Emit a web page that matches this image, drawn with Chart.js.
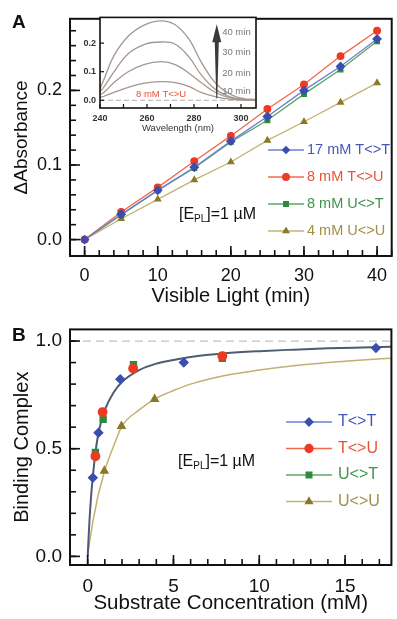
<!DOCTYPE html>
<html>
<head>
<meta charset="utf-8">
<script src="https://cdn.jsdelivr.net/npm/chart.js@4.4.0/dist/chart.umd.min.js"></script>
<style>
  html, body { margin: 0; padding: 0; background: #fff; }
  #wrap { position: relative; width: 397px; height: 619px; overflow: hidden; font-family: "Liberation Sans", Arial, sans-serif; }
  canvas { position: absolute; }
  .panel { position: absolute; font-weight: bold; font-size: 19px; line-height: 1; color: #111; }
</style>
</head>
<body>
<div id="wrap">
  <canvas id="chartA" width="397" height="310" style="left:0px;top:0px"></canvas>
  <canvas id="inset" width="190" height="130" style="left:75px;top:8px"></canvas>
  <canvas id="chartB" width="397" height="309" style="left:0px;top:310px"></canvas>
  <div class="panel" style="left:12px;top:12px">A</div>
  <div class="panel" style="left:12px;top:325px">B</div>
</div>
<script>
// panel A : absorbance change vs irradiation time
const minutes = [0, 5, 10, 15, 20, 25, 30, 35, 40];
const absTT17 = [0, 0.034, 0.066, 0.097, 0.132, 0.165, 0.200, 0.232, 0.269];
const absTU8  = [0, 0.037, 0.070, 0.105, 0.139, 0.175, 0.208, 0.246, 0.280];
const absUT8  = [0, 0.033, 0.066, 0.096, 0.131, 0.160, 0.195, 0.228, 0.266];
const absUU4  = [0, 0.028, 0.054, 0.080, 0.104, 0.133, 0.158, 0.184, 0.210];
const aXTicks = [0, 10, 20, 30, 40];
const aYTicks = [0, 0.1, 0.2];

// inset : spectra of 8 mM T<>U
const wavelength = [240, 242, 246, 252, 259, 266, 272, 278, 283, 289, 295, 301, 306];
const spec10 = [0.010, 0.015, 0.028, 0.045, 0.060, 0.065, 0.062, 0.048, 0.028, 0.013, 0.004, 0.001, 0.000];
const spec20 = [0.020, 0.030, 0.062, 0.100, 0.126, 0.135, 0.125, 0.094, 0.062, 0.028, 0.009, 0.002, 0.001];
const spec30 = [0.030, 0.050, 0.100, 0.163, 0.196, 0.204, 0.196, 0.150, 0.090, 0.039, 0.013, 0.003, 0.002];
const spec40 = [0.040, 0.080, 0.157, 0.224, 0.264, 0.278, 0.264, 0.212, 0.135, 0.062, 0.023, 0.006, 0.003];
const insetXTicks = [240, 260, 280, 300];
const insetYTicks = [0, 0.1, 0.2];
const insetTimes = ['10 min', '20 min', '30 min', '40 min'];

// panel B : binding complex vs substrate concentration
const ttConc = [0.30, 0.63, 1.9, 5.6, 16.8];
const ttBind = [0.365, 0.574, 0.823, 0.900, 0.968];
const tuConc = [0.45, 0.87, 2.65, 7.85];
const tuBind = [0.465, 0.670, 0.873, 0.930];
const utConc = [0.45, 0.90, 2.67, 7.85];
const utBind = [0.483, 0.637, 0.890, 0.920];
const uuConc = [0.97, 1.97, 3.9];
const uuBind = [0.397, 0.605, 0.730];
const fitConc  = [0, 0.1, 0.2, 0.3, 0.45, 0.6, 0.8, 1, 1.5, 2, 3, 4, 5, 6, 8, 10, 12, 14, 16, 17.7];
const fitTight = [0, 0.16, 0.28, 0.37, 0.48, 0.56, 0.63, 0.68, 0.76, 0.81, 0.865, 0.895, 0.912, 0.926, 0.943, 0.953, 0.960, 0.966, 0.970, 0.973];
const fitLoose = [0, 0.06, 0.11, 0.16, 0.22, 0.28, 0.34, 0.40, 0.51, 0.605, 0.68, 0.735, 0.77, 0.80, 0.84, 0.865, 0.885, 0.90, 0.912, 0.92];
const bXTicks = [0, 5, 10, 15];
const bYTicks = [0, 0.5, 1.0];

const FONT = '"Liberation Sans", Arial, sans-serif';
Chart.defaults.font.family = FONT;
Chart.defaults.color = '#111';

const pts = (xs, ys) => xs.map((x, i) => ({ x: x, y: ys[i] }));
const steps = (a, b, s) => { const out = []; for (let v = a; v <= b + 1e-9; v += s) out.push(+v.toFixed(4)); return out; };

// frame round the plot area + inward tick marks
const frameTicks = {
  id: 'frameTicks',
  beforeDraw(chart, args, o) {
    if (!o.fill) return;
    const { ctx, chartArea: ca } = chart;
    ctx.save();
    ctx.fillStyle = o.fill;
    ctx.fillRect(ca.left, ca.top, ca.right - ca.left, ca.bottom - ca.top);
    ctx.restore();
  },
  afterDraw(chart, args, o) {
    const { ctx, chartArea: ca, scales } = chart;
    ctx.save();
    ctx.strokeStyle = '#111';
    ctx.lineWidth = o.width;
    ctx.strokeRect(ca.left, ca.top, ca.right - ca.left, ca.bottom - ca.top);
    ctx.lineWidth = o.tickWidth;
    const draw = (scale, vals, len) => vals.forEach(v => {
      const p = scale.getPixelForValue(v);
      ctx.beginPath();
      if (scale.isHorizontal()) { ctx.moveTo(p, ca.bottom); ctx.lineTo(p, ca.bottom - len); }
      else { ctx.moveTo(ca.left, p); ctx.lineTo(ca.left + len, p); }
      ctx.stroke();
    });
    draw(scales.x, o.xMinor, o.minorLen);
    draw(scales.x, o.xMajor, o.majorLen);
    draw(scales.y, o.yMinor, o.minorLen);
    draw(scales.y, o.yMajor, o.majorLen);
    ctx.restore();
  }
};

// dashed reference line
const refLine = {
  id: 'refLine',
  beforeDatasetsDraw(chart, args, o) {
    const { ctx, chartArea: ca, scales } = chart;
    const y = scales.y.getPixelForValue(o.value);
    ctx.save();
    ctx.strokeStyle = o.color;
    ctx.lineWidth = o.width;
    ctx.setLineDash(o.dash);
    ctx.beginPath();
    ctx.moveTo(ca.left, y);
    ctx.lineTo(ca.right, y);
    ctx.stroke();
    ctx.restore();
  }
};

// legend drawn inside the plot
const innerLegend = {
  id: 'innerLegend',
  afterDatasetsDraw(chart, args, o) {
    const ctx = chart.ctx;
    ctx.save();
    ctx.font = o.size + 'px ' + FONT;
    ctx.textBaseline = 'middle';
    let row = 0;
    chart.data.datasets.forEach(ds => {
      if (ds.inLegend === false) return;
      const y = o.top + row * o.gap;
      ctx.strokeStyle = ds.borderColor;
      ctx.lineWidth = 1.3;
      ctx.beginPath();
      ctx.moveTo(o.lineFrom, y);
      ctx.lineTo(o.lineTo, y);
      ctx.stroke();
      ctx.fillStyle = ds.pointBackgroundColor;
      ctx.strokeStyle = ds.pointBackgroundColor;
      Chart.helpers.drawPoint(ctx, { pointStyle: ds.pointStyle, radius: o.radius, rotation: 0, borderWidth: 1 }, (o.lineFrom + o.lineTo) / 2, y);
      ctx.fillStyle = ds.textColor;
      ctx.fillText(ds.label, o.textX, y);
      row++;
    });
    ctx.restore();
  }
};

// [E_PL]=1 uM and other free text
const notes = {
  id: 'notes',
  afterDatasetsDraw(chart, args, o) {
    const { ctx, scales } = chart;
    ctx.save();
    ctx.textBaseline = 'middle';
    (o.items || []).forEach(n => {
      const x = scales.x.getPixelForValue(n.x);
      const y = scales.y.getPixelForValue(n.y);
      ctx.fillStyle = n.color;
      ctx.font = (n.weight || 'normal') + ' ' + n.size + 'px ' + FONT;
      ctx.textAlign = n.align || 'left';
      if (n.sub) {
        ctx.textAlign = 'left';
        ctx.fillText(n.text, x, y);
        let cx = x + ctx.measureText(n.text).width;
        ctx.font = Math.round(n.size * 0.62) + 'px ' + FONT;
        ctx.fillText(n.sub, cx, y + n.size * 0.3);
        cx += ctx.measureText(n.sub).width;
        ctx.font = n.size + 'px ' + FONT;
        ctx.fillText(n.after, cx, y);
      } else {
        ctx.fillText(n.text, x, y);
      }
    });
    ctx.restore();
  }
};

// arrow in the inset
const timeArrow = {
  id: 'timeArrow',
  afterDatasetsDraw(chart, args, o) {
    const { ctx, scales } = chart;
    const x = scales.x.getPixelForValue(o.x);
    const yb = scales.y.getPixelForValue(o.from);
    const yt = scales.y.getPixelForValue(o.to);
    const yh = yt + o.head;
    ctx.save();
    ctx.fillStyle = o.color;
    ctx.beginPath();
    ctx.moveTo(x - 0.5, yb);
    ctx.lineTo(x - 2, yh);
    ctx.lineTo(x - 4.5, yh);
    ctx.lineTo(x, yt);
    ctx.lineTo(x + 4.5, yh);
    ctx.lineTo(x + 2, yh);
    ctx.lineTo(x + 0.5, yb);
    ctx.closePath();
    ctx.fill();
    ctx.restore();
  }
};

function axis(opts) {
  return {
    type: 'linear',
    min: opts.min, max: opts.max,
    grid: { display: false, drawTicks: false },
    border: { display: false },
    afterBuildTicks: s => { s.ticks = opts.ticks.map(v => ({ value: v })); },
    afterFit: s => { if (opts.height) s.height = opts.height; if (opts.width) s.width = opts.width; },
    ticks: {
      padding: opts.pad,
      color: opts.tickColor || '#111',
      font: { size: opts.tickSize, weight: opts.tickWeight || 'normal' },
      callback: opts.fmt
    },
    title: {
      display: !!opts.title, text: opts.title, color: opts.titleColor || '#111',
      font: { size: opts.titleSize },
      padding: opts.titlePad
    }
  };
}

function series(label, xs, ys, style, mark, line, text, radius) {
  return {
    label: label,
    data: pts(xs, ys),
    pointStyle: style,
    pointRadius: radius,
    pointBackgroundColor: mark,
    pointBorderColor: mark,
    borderColor: line,
    borderWidth: 1.3,
    textColor: text,
    tension: 0
  };
}

// ---------- panel A ----------
new Chart(document.getElementById('chartA'), {
  type: 'line',
  data: {
    datasets: [
      series('17 mM T<>T', minutes, absTT17, 'rectRot', '#3a4db0', '#6d7fd0', '#4557bb', 4),
      series('8 mM T<>U', minutes, absTU8, 'circle', '#ee3a22', '#f06a4e', '#e8543a', 3.3),
      series('8 mM U<>T', minutes, absUT8, 'rect', '#2f8a3e', '#5aa866', '#3f9350', 3.3),
      series('4 mM U<>U', minutes, absUU4, 'triangle', '#8a7a28', '#c3b474', '#a08f45', 3.3)
    ]
  },
  options: {
    responsive: false,
    animation: false,
    layout: { padding: { top: 14, right: 0, bottom: 0, left: 0 } },
    plugins: {
      legend: { display: false },
      tooltip: { enabled: false },
      frameTicks: {
        width: 2, tickWidth: 1.6, majorLen: 10, minorLen: 6,
        xMajor: aXTicks, xMinor: steps(0, 42, 2),
        yMajor: aYTicks, yMinor: steps(0, 0.28, 0.02)
      },
      innerLegend: { top: 150, gap: 27, lineFrom: 268, lineTo: 304, textX: 307, size: 14.5, radius: 3.3 },
      notes: { items: [{ x: 12.9, y: 0.034, text: '[E', sub: 'PL', after: ']=1 \u00b5M', size: 16, color: '#111' }] }
    },
    scales: {
      x: axis({ min: -2, max: 42, ticks: aXTicks, height: 54, pad: 9, tickSize: 18, fmt: v => String(v),
                title: 'Visible Light (min)', titleSize: 20, titlePad: { top: 0, bottom: 2 } }),
      y: axis({ min: -0.022, max: 0.296, ticks: aYTicks, width: 70, pad: 8, tickSize: 18, fmt: v => v.toFixed(1),
                title: '\u0394Absorbance', titleSize: 19, titlePad: { top: 10, bottom: 0 } })
    }
  },
  plugins: [frameTicks, innerLegend, notes]
});

// ---------- inset ----------
const grey = '#a39792';
const specSet = (ys) => ({ data: pts(wavelength, ys), borderColor: grey, borderWidth: 1.3, pointRadius: 0, tension: 0.4, inLegend: false });
new Chart(document.getElementById('inset'), {
  type: 'line',
  data: { datasets: [specSet(spec10), specSet(spec20), specSet(spec30), specSet(spec40)] },
  options: {
    responsive: false,
    animation: false,
    layout: { padding: { top: 6, right: 9, bottom: 0, left: 0 } },
    plugins: {
      legend: { display: false },
      tooltip: { enabled: false },
      frameTicks: {
        fill: '#fff', width: 1.6, tickWidth: 1.2, majorLen: 4, minorLen: 4,
        xMajor: insetXTicks, xMinor: [250, 270, 290],
        yMajor: insetYTicks, yMinor: []
      },
      refLine: { value: 0, color: '#b0b0b0', width: 1, dash: [5, 3] },
      notes: {
        items: [
          { x: 292, y: 0.030, text: insetTimes[0], size: 9.5, color: '#777' },
          { x: 292, y: 0.094, text: insetTimes[1], size: 9.5, color: '#777' },
          { x: 292, y: 0.168, text: insetTimes[2], size: 9.5, color: '#777' },
          { x: 292, y: 0.236, text: insetTimes[3], size: 9.5, color: '#777' },
          { x: 266, y: 0.019, text: '8 mM T<>U', size: 9.5, color: '#e8503a', align: 'center' }
        ]
      },
      timeArrow: { x: 289.7, from: 0.007, to: 0.266, head: 18, color: '#3a3a3a' }
    },
    scales: {
      x: axis({ min: 240, max: 306.4, ticks: insetXTicks, height: 30, pad: 5, tickSize: 9, tickWeight: 'bold',
                tickColor: '#333', fmt: v => String(v),
                title: 'Wavelength (nm)', titleSize: 9.5, titleColor: '#333', titlePad: { top: 0, bottom: 4 } }),
      y: axis({ min: -0.027, max: 0.29, ticks: insetYTicks, width: 25, pad: 4, tickSize: 9, tickWeight: 'bold',
                tickColor: '#333', fmt: v => v.toFixed(1),
                title: '', titleSize: 1, titlePad: 0 })
    }
  },
  plugins: [frameTicks, refLine, notes, timeArrow]
});

// ---------- panel B ----------
const bPoints = (label, xs, ys, style, mark, line, text) =>
  Object.assign(series(label, xs, ys, style, mark, line, text, 4.3), { showLine: false, order: 1 });
const fitSet = (ys, color, w) => ({ data: pts(fitConc, ys), borderColor: color, borderWidth: w, pointRadius: 0,
  tension: 0.4, cubicInterpolationMode: 'monotone', inLegend: false, order: 2 });
new Chart(document.getElementById('chartB'), {
  type: 'line',
  data: {
    datasets: [
      bPoints('T<>T', ttConc, ttBind, 'rectRot', '#3a4db0', '#6d7fd0', '#4557bb'),
      bPoints('T<>U', tuConc, tuBind, 'circle', '#ee3a22', '#f06a4e', '#e8543a'),
      bPoints('U<>T', utConc, utBind, 'rect', '#2f8a3e', '#5aa866', '#3f9350'),
      bPoints('U<>U', uuConc, uuBind, 'triangle', '#8a7a28', '#c3b474', '#a08f45'),
      fitSet(fitTight, '#4f5b74', 2),
      fitSet(fitLoose, '#c2b070', 1.5)
    ]
  },
  options: {
    responsive: false,
    animation: false,
    layout: { padding: { top: 13, right: 0, bottom: 0, left: 0 } },
    plugins: {
      legend: { display: false },
      tooltip: { enabled: false },
      frameTicks: {
        width: 2, tickWidth: 1.6, majorLen: 10, minorLen: 6,
        xMajor: bXTicks, xMinor: steps(0, 17, 1),
        yMajor: bYTicks, yMinor: steps(0, 1, 0.1)
      },
      refLine: { value: 1, color: '#c4c4c4', width: 1.2, dash: [8, 5] },
      innerLegend: { top: 112, gap: 26.5, lineFrom: 286, lineTo: 332, textX: 338, size: 16, radius: 4 },
      notes: { items: [{ x: 5.27, y: 0.44, text: '[E', sub: 'PL', after: ']=1 \u00b5M', size: 16, color: '#111' }] }
    },
    scales: {
      x: axis({ min: -1.03, max: 17.7, ticks: bXTicks, height: 54, pad: 10, tickSize: 19, fmt: v => String(v),
                title: 'Substrate Concentration (mM)', titleSize: 20.5, titlePad: { top: 0, bottom: 3 } }),
      y: axis({ min: -0.04, max: 1.054, ticks: bYTicks, width: 70, pad: 8, tickSize: 19, fmt: v => v.toFixed(1),
                title: 'Binding Complex', titleSize: 20, titlePad: { top: 10, bottom: 0 } })
    }
  },
  plugins: [frameTicks, refLine, innerLegend, notes]
});
</script>
</body>
</html>
